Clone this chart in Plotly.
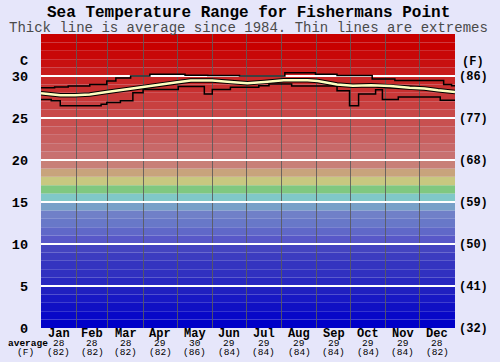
import plotly.graph_objects as go

# ---------------- data ----------------
MONTHS = ["Jan", "Feb", "Mar", "Apr", "May", "Jun", "Jul", "Aug", "Sep", "Oct", "Nov", "Dec"]
MONTH_DAYS = [31, 28, 31, 30, 31, 30, 31, 31, 30, 31, 30, 31]
MONTH_AVG_C = ["28", "28", "28", "29", "30", "29", "29", "29", "29", "29", "29", "28"]
MONTH_AVG_F = ["(82)", "(82)", "(82)", "(82)", "(86)", "(84)", "(84)", "(84)", "(84)", "(84)", "(84)", "(82)"]

C_TICKS = [0, 5, 10, 15, 20, 25, 30]
F_TICK_TEXT = ["(32)", "(41)", "(50)", "(59)", "(68)", "(77)", "(86)"]

# average (thick line), day of year -> deg C
avg_day = [0, 9, 17, 30, 43, 58, 73, 89, 103, 120, 132, 151, 167, 182, 197, 214,
           235, 244, 261, 275, 291, 308, 325, 338, 350, 365]
avg_temp = [27.95, 27.8, 27.7, 27.7, 27.8, 28.1, 28.4, 28.7, 29.0, 29.25, 29.45, 29.45,
            29.3, 29.15, 29.3, 29.5, 29.5, 29.4, 29.0, 28.85, 28.9, 28.8, 28.6, 28.5, 28.3, 28.1]

# maximum extreme (step line)
max_day = [0, 12, 24, 43, 58, 66, 79, 96, 127, 147, 175, 215, 242, 261, 292, 312, 355, 362]
max_temp = [28.6, 28.7, 28.8, 29.0, 29.4, 29.75, 30.0, 30.2, 30.1, 30.05, 30.0, 30.4,
            30.2, 30.05, 29.65, 29.45, 29.0, 28.85]

# minimum extreme (step line)
min_day = [0, 9, 17, 53, 58, 70, 81, 90, 121, 144, 151, 167, 192, 201, 221, 261,
           272, 280, 295, 301, 315, 352]
min_temp = [27.2, 27.05, 26.45, 26.65, 26.85, 27.05, 28.0, 28.4, 28.75, 27.85, 28.4,
            28.65, 28.85, 29.05, 28.8, 28.25, 26.45, 27.85, 28.35, 27.2, 27.5, 27.1]

# colour bands, one per degree C from 0 upwards (style)
BAND_COLORS = [
    "#0000c8", "#0808c8", "#1010c4", "#1818c4", "#2020c0", "#2828c0", "#3030c0",
    "#3434c0", "#3c3cc0", "#4444c0", "#5858c8", "#6068c8", "#6878c8", "#7080c8",
    "#78a0c8", "#80c8c8", "#80c880", "#c8c880", "#c8a47c", "#c88078", "#c87070",
    "#c86868", "#c86060", "#c85858", "#c85050", "#c84848", "#c84040", "#c83838",
    "#c83030", "#c82828", "#c81c1c", "#c81010", "#c80808", "#c80000", "#c80000",
]

YEAR_END = 365
FONT = "Liberation Mono"
BG = "#e6e6fa"

# ---------------- figure ----------------
fig = go.Figure()

bounds = []
acc = 0
for d in MONTH_DAYS[:-1]:
    acc += d
    bounds.append(acc)
mids = []
acc = 0
for d in MONTH_DAYS:
    mids.append(acc + d / 2)
    acc += d

shapes = []
for i, col in enumerate(BAND_COLORS):
    shapes.append(dict(type="rect", xref="x", yref="y", x0=0, x1=YEAR_END, y0=i, y1=i + 1,
                       fillcolor=col, line=dict(width=0), layer="below"))

fig.add_trace(go.Scatter(x=min_day + [YEAR_END], y=min_temp + [min_temp[-1]], mode="lines",
                         line=dict(color="black", width=1.5, shape="hv"), hoverinfo="skip"))
fig.add_trace(go.Scatter(x=max_day + [YEAR_END], y=max_temp + [max_temp[-1]], mode="lines",
                         line=dict(color="black", width=1.5, shape="hv"), hoverinfo="skip"))
fig.add_trace(go.Scatter(x=avg_day, y=avg_temp, mode="lines",
                         line=dict(color="black", width=4.5), hoverinfo="skip"))
fig.add_trace(go.Scatter(x=avg_day, y=avg_temp, mode="lines",
                         line=dict(color="#ffffc0", width=2.5), hoverinfo="skip"))
# anchor for right-hand Fahrenheit axis
fig.add_trace(go.Scatter(x=[None], y=[None], yaxis="y2", mode="lines", hoverinfo="skip"))

H = 294.0
W = 427.0
def py(px):
    return (328 - px) / H
def pxx(px):
    return (px - 35) / W

ann = []
ann.append(dict(text="<b>Sea Temperature Range for Fishermans Point</b>", xref="paper", yref="paper",
                x=0.5, y=py(13), xanchor="center", yanchor="middle", showarrow=False,
                font=dict(family=FONT, size=16, color="black")))
ann.append(dict(text="Thick line is average since 1984. Thin lines are extremes", xref="paper", yref="paper",
                x=pxx(249), y=py(28), xanchor="center", yanchor="middle", showarrow=False,
                font=dict(family=FONT, size=14, color="#4a4a4a")))
ann.append(dict(text="<b>C</b>", xref="paper", yref="paper", x=pxx(17.5), y=py(61),
                xanchor="center", yanchor="middle", showarrow=False,
                font=dict(family=FONT, size=13.5, color="black")))
ann.append(dict(text="<b>(F)</b>", xref="paper", yref="paper", x=pxx(481), y=py(62),
                xanchor="center", yanchor="middle", showarrow=False,
                font=dict(family=FONT, size=12, color="black")))
ann.append(dict(text="<b>average</b>", xref="paper", yref="paper", x=pxx(22), y=py(343.5),
                xanchor="center", yanchor="middle", showarrow=False,
                font=dict(family=FONT, size=9.5, color="black")))
ann.append(dict(text="(F)", xref="paper", yref="paper", x=pxx(18.5), y=py(352.5),
                xanchor="center", yanchor="middle", showarrow=False,
                font=dict(family=FONT, size=9.5, color="black")))
for m, xm, c, f in zip(MONTHS, mids, MONTH_AVG_C, MONTH_AVG_F):
    ann.append(dict(text="<b>%s</b>" % m, xref="x", yref="paper", x=xm, y=py(334),
                    xanchor="center", yanchor="middle", showarrow=False,
                    font=dict(family=FONT, size=12, color="black")))
    ann.append(dict(text=c, xref="x", yref="paper", x=xm, y=py(343.5),
                    xanchor="center", yanchor="middle", showarrow=False,
                    font=dict(family=FONT, size=9.5, color="black")))
    ann.append(dict(text=f, xref="x", yref="paper", x=xm, y=py(352.5),
                    xanchor="center", yanchor="middle", showarrow=False,
                    font=dict(family=FONT, size=9.5, color="black")))

fig.update_layout(
    width=500, height=362,
    margin=dict(l=35, r=38, t=34, b=34),
    paper_bgcolor=BG, plot_bgcolor=BG,
    showlegend=False,
    shapes=shapes,
    annotations=ann,
    xaxis=dict(range=[0, YEAR_END], tickvals=bounds, showticklabels=False, ticks="",
               showgrid=True, gridcolor="rgba(90,90,90,0.85)", gridwidth=1, zeroline=False,
               showline=False, fixedrange=True),
    yaxis=dict(range=[0, 35], tickvals=C_TICKS, ticks="", ticklabelstandoff=12,
               showgrid=True, gridcolor="white", gridwidth=2, zeroline=False, showline=False,
               tickfont=dict(family=FONT, size=13.5, color="black", weight="bold")),
    yaxis2=dict(range=[0, 35], overlaying="y", side="right", tickvals=C_TICKS, ticktext=F_TICK_TEXT,
                ticks="", ticklabelstandoff=3, showgrid=False, zeroline=False, showline=False,
                tickfont=dict(family=FONT, size=12, color="black", weight="bold")),
)

fig.write_html("out.html", config={"displayModeBar": False},
               post_script="document.body.style.margin='0px';")
